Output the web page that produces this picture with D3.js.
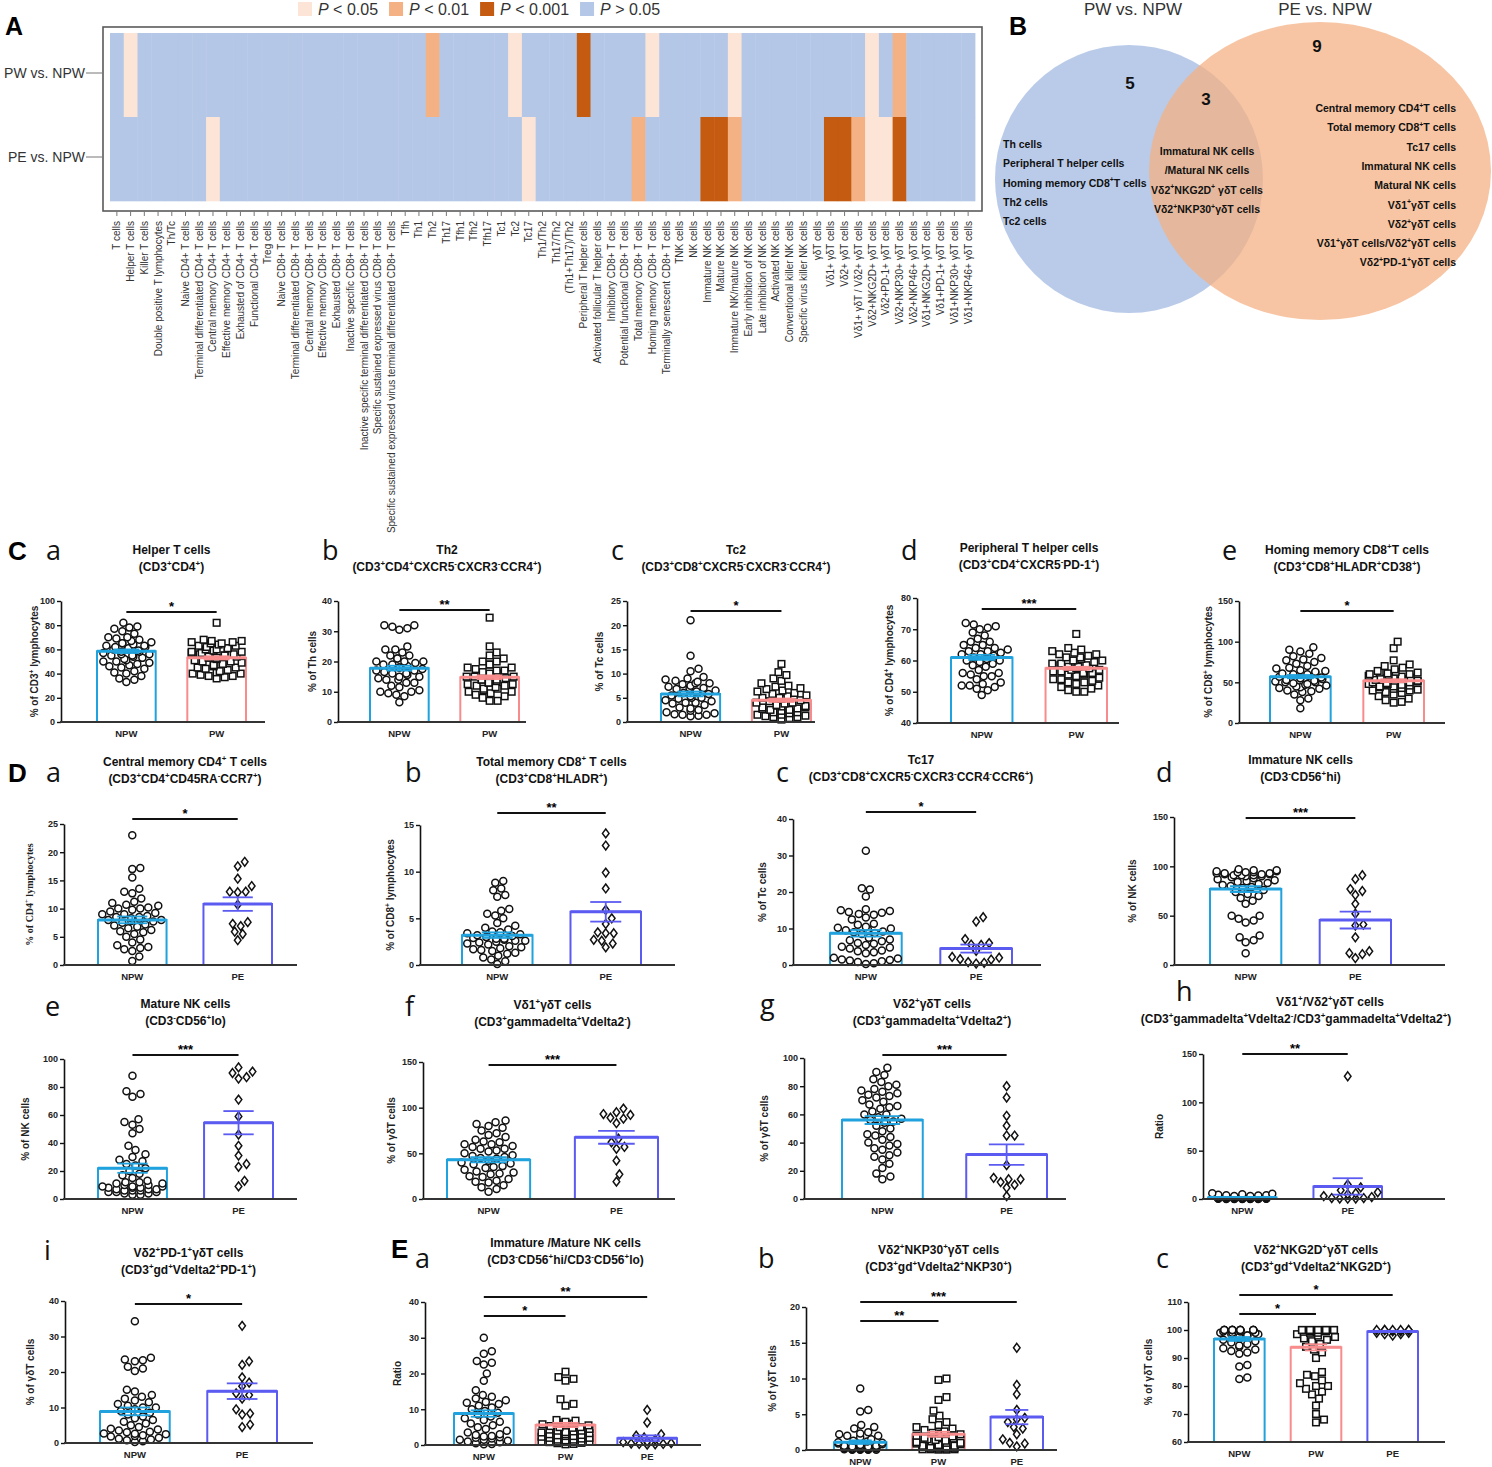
<!DOCTYPE html>
<html>
<head>
<meta charset="utf-8">
<script src="https://cdn.jsdelivr.net/npm/d3@7"></script>
<style>
  body { margin: 0; background: #fff; }
</style>
</head>
<body>
<svg id="fig" width="1492" height="1467"></svg>
<script>
// ---------- panel A : heatmap ----------
const cellTypes = [
  "T cells", "Helper T cells", "Killer T cells", "Double positive T lymphocytes", "Th/Tc",
  "Naive CD4+ T cells", "Terminal differentiated CD4+ T cells", "Central memory CD4+ T cells",
  "Effective memory CD4+ T cells", "Exhausted of CD4+ T cells", "Functional CD4+ T cells", "Treg cells",
  "Naive CD8+ T cells", "Terminal differentiated CD8+ T cells", "Central memory CD8+ T cells",
  "Effective memory CD8+ T cells", "Exhausted CD8+ T cells", "Inactive specific CD8+ T cells",
  "Inactive specific terminal differentiated CD8+ T cells", "Specific sustained expressed virus CD8+ T cells",
  "Specific sustained expressed virus terminal differentiated CD8+ T cells",
  "Tfh", "Th1", "Th2", "Th17", "Tfh1", "Tfh2", "Tfh17", "Tc1", "Tc2", "Tc17",
  "Th1/Th2", "Th17/Th2", "(Th1+Th17)/Th2", "Peripheral T helper cells", "Activated follicular T helper cells",
  "Inhibitory CD8+ T cells", "Potential functional CD8+ T cells", "Total memory CD8+ T cells",
  "Homing memory CD8+ T cells", "Terminally senescent CD8+ T cells", "TNK cells", "NK cells",
  "Immature NK cells", "Mature NK cells", "Immature NK/mature NK cells", "Early inhibition of NK cells",
  "Late inhibition of NK cells", "Activated NK cells", "Conventional killer NK cells",
  "Specific virus killer NK cells", "γδT cells", "Vδ1+ γδT cells", "Vδ2+ γδT cells",
  "Vδ1+ γδT / Vδ2+ γδT cells", "Vδ2+NKG2D+ γδT cells", "Vδ2+PD-1+ γδT cells", "Vδ2+NKP30+ γδT cells",
  "Vδ2+NKP46+ γδT cells", "Vδ1+NKG2D+ γδT cells", "Vδ1+PD-1+ γδT cells", "Vδ1+NKP30+ γδT cells",
  "Vδ1+NKP46+ γδT cells"
];
const comparisons = ["PW vs. NPW", "PE vs. NPW"];
// 0: P>0.05, 1: P<0.05, 2: P<0.01, 3: P<0.001
const pwLevel = [
  0,1,0,0,0,0,0,0,0,0,
  0,0,0,0,0,0,0,0,0,0,
  0,0,0,2,0,0,0,0,0,1,
  0,0,0,0,3,0,0,0,0,1,
  0,0,0,0,0,1,0,0,0,0,
  0,0,0,0,0,1,0,2,0,0,
  0,0,0
];
const peLevel = [
  0,0,0,0,0,0,0,1,0,0,
  0,0,0,0,0,0,0,0,0,0,
  0,0,0,0,0,0,0,0,0,0,
  1,0,0,0,0,0,0,0,2,0,
  0,0,0,3,3,2,0,0,0,0,
  0,0,3,3,2,1,1,3,0,0,
  0,0,0
];
const levelLabels = [" > 0.05", " < 0.05", " < 0.01", " < 0.001"];
const levelColors = ["#b4c7e7", "#fce4d6", "#f4b183", "#c55a11"];
const legendOrder = [1, 2, 3, 0];

// ---------- panel B : venn ----------
const vennTitles = ["PW vs. NPW", "PE vs. NPW"];
const vennCounts = [5, 3, 9];
const pwOnlyCells = ["Th cells", "Peripheral T helper cells", "Homing memory CD8^+T cells", "Th2 cells", "Tc2 cells"];
const sharedCells = ["Immatural NK cells", "/Matural NK cells", "Vδ2^+NKG2D^+ γδT cells", "Vδ2^+NKP30^+γδT cells"];
const peOnlyCells = ["Central memory CD4^+T cells", "Total memory CD8^+T cells", "Tc17 cells", "Immatural NK cells",
  "Matural NK cells", "Vδ1^+γδT cells", "Vδ2^+γδT cells", "Vδ1^+γδT cells/Vδ2^+γδT cells", "Vδ2^+PD-1^+γδT cells"];

// ---------- panels C-E : scatter bars ----------
const groups = ["NPW", "PW", "PE"];

const helperNPW = [82,79,78,77,75,73,70,70,69,68,67,66,65,65,64,63,63,62,62,61,60,60,59,58,58,57,56,56,55,55,54,53,52,51,50,50,49,48,47,46,45,44,42,41,40,38,36,35,33];
const helperPW = [82,68,67,67,66,66,65,65,64,63,63,62,61,61,60,60,59,58,58,57,57,56,56,55,55,54,54,53,53,52,51,50,50,49,48,48,47,46,45,45,44,43,42,41,40,40,39,38,38,37,36];
const helperMean = [58.5, 53], helperSem = [1.5, 1.3];

const th2NPW = [32,32,31.5,31,30.5,25,24,24,23,22,22,21,21,20,20,20,19.5,19,19,18.5,18,18,17.5,17,17,16.5,16,16,15.5,15,15,14.5,14,14,13,13,12,11.5,10.5,10,10,9.5,9,8.5,6.5];
const th2PW = [34.5,25,23,22,21,20,20,19,19,18,18,17.5,17,17,16.5,16,16,15.5,15,15,15,14.5,14,14,14,13.5,13,13,12.5,12.5,12,12,11.5,11,11,10.5,10,10,9.5,9,8.5,8,7,7];
const th2Mean = [17.8, 14.8], th2Sem = [0.8, 0.6];

const tc2NPW = [21,13.7,11,10.5,9.3,9,8.8,8.5,8.3,8,8,7.8,7.5,7.3,7,7,6.8,6.5,6.3,6,6,5.8,5.5,5.3,5,5,4.8,4.5,4.3,4,4,3.8,3.5,3,2.8,2.5,2.3,2,1.8,1.6,1.5,1.3,1.2,1.5];
const tc2PW = [12,10.3,9.7,9,8.5,8,7.5,7.3,7,6.8,6.5,6.3,6,5.8,5.5,5.3,5,5,4.8,4.5,4.3,4,4,3.8,3.5,3.3,3,3,2.8,2.5,2.5,2.3,2,2,1.8,1.5,1.5,1.3,1,1,0.8,0.5,3.2,2.7,1.2];
const tc2Mean = [5.8, 4.5], tc2Sem = [0.5, 0.35];

const pthNPW = [72,71.5,71,70.5,70,69,68,67,66,66,65,65,64,64,63.5,63,63,62.5,62,62,61.5,61,60.5,60,60,59.5,59,58.5,58,57,56,56,55.5,55,55,54,53,52.5,52,52,51.5,51,50.5,49];
const pthPW = [68.5,64,63.5,63,62.5,62,62,61.5,61,61,60.5,60,60,59.5,59,59,58.5,58.5,58,58,57.5,57.5,57,57,56.5,56.5,56,56,55.5,55.5,55,55,54.5,54,54,53.5,53,53,52.5,52,51.5,51,50.5,50,50];
const pthMean = [61, 57.5], pthSem = [0.8, 0.5];

const homingNPW = [93,90,88,85,82,80,78,77,75,73,70,68,67,65,64,63,62,61,60,60,59,58,57,56,55,55,54,53,52,51,50,50,49,48,47,46,45,44,43,42,40,39,38,35,30,28,18];
const homingPW = [100,92,77,72,70,68,66,64,63,62,62,61,60,60,59,58,57,56,55,55,54,53,52,52,51,50,50,49,48,48,47,46,45,45,44,43,42,41,40,40,38,37,35,33,30,28,26,25];
const homingMean = [57, 52], homingSem = [2, 1.8];

const cmCD4NPW = [23,17.2,17,15.5,13.5,13,12.7,11.8,11.2,11,10.7,10.5,10.2,10,10,9.8,9.5,9.2,9,9,8.7,8.5,8.5,8.3,8.2,8,8,7.8,7.7,7.5,7.2,7,6.8,6.5,6.2,6,5.8,5.5,5,4.5,4,3.5,3.2,3,2.8,2.5,1.5,0.7];
const cmCD4PE = [18.3,17.5,15.3,14,13,13,12.9,10.7,7.6,7.3,6.9,5.9,5.5,4.4];
const cmCD4Mean = [8.0, 10.8], cmCD4Sem = [0.6, 1.2];

const tmCD8NPW = [9,8.8,8.2,8,7.5,7.3,6,5.8,5.5,5.3,5,4.5,4.2,4,3.8,3.6,3.5,3.4,3.3,3.2,3,3,2.9,2.8,2.8,2.7,2.6,2.5,2.4,2.3,2.2,2,1.9,1.8,1.7,1.6,1.5,1.3,1.2,1,0.8,0.6,0.4,0.1,2.6,3.1];
const tmCD8PE = [14.1,12.8,9.9,8.2,5.9,5,4.4,3.5,3.4,3.4,2.7,2.6,2.3,1.9];
const tmCD8Mean = [3.2, 5.7], tmCD8Sem = [0.3, 1.05];

const tc17NPW = [31.3,21,20.7,18.8,15.3,15,14.8,14.5,14.3,14,13.8,13,12.5,11.3,11,10.5,10.2,10,9.8,9.5,9.2,9,8.8,8.5,7.5,7,6.8,6.5,6,5.8,5.5,5,4.8,4.5,4,3.8,3.5,3.2,2,1.8,1.5,1.4,1.2,1,0.8,0.5,0.3];
const tc17PE = [13.1,11.9,7.1,6,5.6,5.5,3.9,2.2,2,1.6,1.5,0.8,0.6,0.4];
const tc17Mean = [8.7, 4.5], tc17Sem = [0.9, 1.1];

const immNKNPW = [97,96,96,95,95,94,94,93,93,92,92,92,91,91,91,90,90,89,88,87,86,85,84,83,82,81,80,79,78,76,74,72,70,68,65,62,50,50,47,45,43,30,28,25,23,12,93,94];
const immNKPE = [91,87,77,75,71,62,52,41,40,28,14,12,11,7];
const immNKMean = [77, 45.5], immNKSem = [3, 8.5];

const matNKNPW = [88,77,75,73,57,55,53,50,47,38,35,32,30,28,27,25,24,22,20,18,17,15,13,12,11,10,10,9,9,8,8,8,7,7,7,6,6,6,5,5,5,4,4,3,3,12,11,9];
const matNKPE = [94,91,90,87,86,71,59,46,38,31,25,23,13,9];
const matNKMean = [22, 54.5], matNKSem = [3.3, 8.3];

const vd1NPW = [86,84,82,80,78,75,72,70,68,65,63,62,60,58,57,55,53,52,50,48,47,46,45,44,42,40,39,38,36,35,34,32,30,29,28,27,25,24,22,20,19,18,15,13,11,8,60,55];
const vd1PE = [99,95,93,92,89,88,83,66,62,57,55,42,27,19];
const vd1Mean = [43, 67.5], vd1Sem = [2.8, 7];

const vd2NPW = [93,90,88,85,83,81,80,78,77,76,75,74,73,72,70,69,67,65,64,62,60,58,57,56,55,54,52,50,48,46,45,44,42,40,39,38,36,35,33,31,30,28,25,22,18,16,14,60,66];
const vd2PE = [80,72,59,52,45,45,24,15,14,14,12,10,8,2];
const vd2Mean = [56, 31.5], vd2Sem = [2.8, 7.3];

const ratioNPW = [6,5.5,5,4.5,4,4,3.5,3,3,2.8,2.5,2.3,2,2,1.8,1.6,1.5,1.4,1.3,1.2,1.1,1,1,0.9,0.8,0.8,0.7,0.6,0.6,0.5,0.5,0.4,0.4,0.3,0.3,0.2,0.2,0.2,0.1,0.1,0.1,0.05,0.05,1.5,2.2];
const ratioPE = [127,15,12,9,7,6,5,3,2,1,1,0.5,0.5,0.3];
const ratioMean = [1.5, 13], ratioSem = [0.2, 8.5];

const pd1NPW = [34.3,24,23.5,23.3,23,21.5,21,20.3,15,14.5,13.5,13,12.5,12,11.5,11,10.5,10,10,9.5,9,8.5,8,7.5,7,6.5,6,5.5,5,4.5,4,3.5,3.2,3,2.7,2.5,2.2,2,1.8,1.5,1.2,1,0.8,0.5,0.3,3.8,2.6];
const pd1PE = [33,23,22,18.5,17,16,14,13.5,12.5,9.5,8.3,8,5.2,4.5];
const pd1Mean = [8.9, 14.6], pd1Sem = [1.1, 2.2];

const nkRatioNPW = [30,26.2,25.5,23.5,23,22.5,20,18,15.3,14,13.5,13,12.5,12,11.8,11.5,11,10.5,10,9.5,9,8.5,8,7.5,7,6.5,6,5.5,5,4.5,4,3.5,3,2.8,2.5,2.2,2,1.8,1.5,1.2,1,0.8,0.5,0.3,0.2,1.5,2.4];
const nkRatioPW = [20.5,19,18.5,18,12.8,11.5,11,7,6.8,6.5,6.3,6,6,5.8,5.5,5.3,5,5,4.8,4.5,4.3,4,4,3.8,3.5,3.3,3,3,2.8,2.5,2.5,2.3,2,2,1.8,1.5,1.5,1.3,1,1,0.8,0.6,0.5,0.3,0.2,2.7,3.6];
const nkRatioPE = [9.8,6.3,3,2.6,2.1,1.5,1,0.8,0.5,0.4,0.3,0.3,0.2,0.1];
const nkRatioMean = [8.8, 5.6, 1.9], nkRatioSem = [0.9, 0.6, 0.8];

const nkp30NPW = [8.6,5.6,5.4,3.5,3.2,3,2.5,2.3,2.2,2,2,1.8,1.5,1.3,1.2,1.1,1,0.9,0.8,0.7,0.6,0.6,0.5,0.5,0.4,0.4,0.4,0.3,0.3,0.3,0.2,0.2,0.2,0.2,0.1,0.1,0.1,0.1,0.05,0.05,0.05,0.05,0.5,0.3,0.2];
const nkp30PW = [10,9.8,7.4,7,5.5,4.8,4.3,3.9,3.5,3.2,3,2.8,2.6,2.4,2.3,2.2,2,1.9,1.8,1.7,1.6,1.5,1.4,1.3,1.2,1.1,1,1,0.9,0.8,0.7,0.6,0.6,0.5,0.5,0.4,0.4,0.3,0.3,0.2,0.2,0.1,0.1,0.1,0.05,0.05];
const nkp30PE = [14.3,9.1,7.8,5.6,4.5,4.3,3.9,3.2,3,2.2,1.5,1,0.9,0.5];
const nkp30Mean = [1.1, 2.2, 4.6], nkp30Sem = [0.25, 0.35, 1];

const nkg2dNPW = [100,100,100,100,100,100,100,100,100,100,100,100,100,100,100,100,100,100,99.5,99.5,99,99,99,98.5,98.5,98,98,97.5,97,96.5,96,95.5,95,94.5,94,93.5,93,92.5,92,91.5,87.5,87,83,82.5];
const nkg2dPW = [100,100,100,100,100,100,100,100,100,100,100,100,100,100,100,100,99.5,99.5,99,99,98.5,98,97.5,97,96.5,96,95,94,93,92,90,85,84,83.5,82,81,80,80,79,78,77,75.5,73,70,68,67];
const nkg2dPE = [100,100,100,100,100,100,100,99.5,99.5,99,99,98.5,98.5,98];
const nkg2dMean = [96.8, 93.8, 99.5], nkg2dSem = [0.7, 1.1, 0.2];

// ---------- drawing ----------
const svg = d3.select("#fig");
const SANS = "'Liberation Sans', Arial, sans-serif";
const NARROW = "'Liberation Sans Narrow', 'Arial Narrow', 'Liberation Sans', Arial, sans-serif";
const groupColor = { NPW: "#1fa2dd", PW: "#f88c8c", PE: "#5b5bf2" };

// text with ^+ / ^- superscripts
function rich(sel, str, size) {
  const parts = str.split(/(\^.)/).filter(s => s.length);
  let up = false;
  parts.forEach(p => {
    const t = sel.append("tspan");
    if (p[0] === "^") {
      t.attr("font-size", size * 0.66).attr("dy", up ? 0 : -size * 0.4).text(p[1]);
      up = true;
    } else {
      t.attr("dy", up ? size * 0.4 : 0).text(p);
      up = false;
    }
  });
  return sel;
}

// ----- A -----
const hx = d3.scaleBand().domain(cellTypes).range([110, 975]);
const hy = d3.scaleBand().domain(comparisons).range([33, 201]);

svg.append("text").attr("x", 5).attr("y", 35).attr("font-family", SANS)
  .attr("font-weight", "bold").attr("font-size", 25).text("A");

svg.append("rect").attr("x", 103).attr("y", 27).attr("width", 879).attr("height", 184)
  .attr("fill", "#fff").attr("stroke", "#5a5a5a").attr("stroke-width", 1.6);

[pwLevel, peLevel].forEach((lv, r) => {
  svg.append("g").selectAll("rect").data(cellTypes).join("rect")
    .attr("x", d => hx(d)).attr("y", hy(comparisons[r]))
    .attr("width", hx.bandwidth() + 0.4).attr("height", hy.bandwidth() + 0.3)
    .attr("fill", (d, i) => levelColors[lv[i]]);
});

// x ticks + labels
const hxAxis = svg.append("g");
cellTypes.forEach(c => {
  const cx = hx(c) + hx.bandwidth() / 2;
  hxAxis.append("line").attr("x1", cx).attr("x2", cx).attr("y1", 211).attr("y2", 216)
    .attr("stroke", "#777").attr("stroke-width", 1);
  hxAxis.append("text").attr("transform", `translate(${cx},221) rotate(-90)`)
    .attr("text-anchor", "end").attr("dy", "0.35em").attr("font-family", SANS)
    .attr("font-size", 10).attr("fill", "#333").text(c);
});
comparisons.forEach(c => {
  const cy = hy(c) + hy.bandwidth() / 2 - 2;
  svg.append("line").attr("x1", 86).attr("x2", 102).attr("y1", cy).attr("y2", cy)
    .attr("stroke", "#777").attr("stroke-width", 1);
  svg.append("text").attr("x", 85).attr("y", cy).attr("dy", "0.35em").attr("text-anchor", "end")
    .attr("font-family", SANS).attr("font-size", 14).attr("fill", "#333").text(c);
});

// legend
let lx = 298;
legendOrder.forEach(k => {
  svg.append("rect").attr("x", lx).attr("y", 2).attr("width", 14).attr("height", 14).attr("fill", levelColors[k]);
  const t = svg.append("text").attr("x", lx + 20).attr("y", 15).attr("font-family", SANS)
    .attr("font-size", 16).attr("fill", "#333");
  t.append("tspan").attr("font-style", "italic").text("P");
  t.append("tspan").text(levelLabels[k]);
  lx += 20 + t.node().getComputedTextLength() + 11;
});

// ----- B -----
svg.append("text").attr("x", 1009).attr("y", 35).attr("font-family", SANS)
  .attr("font-weight", "bold").attr("font-size", 25).text("B");
svg.append("ellipse").attr("cx", 1129).attr("cy", 179).attr("rx", 134).attr("ry", 134)
  .attr("fill", "#b4c7e7").attr("opacity", 0.92);
svg.append("ellipse").attr("cx", 1320).attr("cy", 171).attr("rx", 171).attr("ry", 149)
  .attr("fill", "#f4b183").attr("opacity", 0.74);
[[1133, vennTitles[0]], [1325, vennTitles[1]]].forEach(([x, t]) => {
  svg.append("text").attr("x", x).attr("y", 15).attr("text-anchor", "middle").attr("font-family", SANS)
    .attr("font-size", 17).attr("fill", "#333").text(t);
});
[[1130, 89], [1206, 105], [1317, 52]].forEach(([x, y], i) => {
  svg.append("text").attr("x", x).attr("y", y).attr("text-anchor", "middle").attr("font-family", SANS)
    .attr("font-weight", "bold").attr("font-size", 17).attr("fill", "#111").text(vennCounts[i]);
});
function vennList(list, x, y0, anchor) {
  list.forEach((s, i) => {
    const t = svg.append("text").attr("x", x).attr("y", y0 + i * 19.3).attr("text-anchor", anchor)
      .attr("font-family", SANS).attr("font-weight", "bold").attr("font-size", 10.5).attr("fill", "#111");
    rich(t, s, 10.5);
  });
}
vennList(pwOnlyCells, 1003, 148, "start");
vennList(sharedCells, 1207, 155, "middle");
vennList(peOnlyCells, 1456, 112, "end");

// ----- C-E -----
function swarm(vals, y, cx, half, r) {
  const pts = vals.map(v => ({ v, y: y(v) })).sort((a, b) => b.y - a.y);
  const placed = [];
  const lim = Math.max(0, half - r);
  pts.forEach(p => {
    let best = 0, bestCost = Infinity;
    for (let k = 0; k <= lim; k += 1) {
      for (const s of (k === 0 ? [1] : [1, -1])) {
        const off = k * s;
        let cost = 0;
        for (const q of placed) {
          const dx = q.x - (cx + off), dy = q.y - p.y;
          if (dx * dx + dy * dy < (2 * r) * (2 * r)) cost++;
        }
        if (cost < bestCost) { bestCost = cost; best = off; }
        if (cost === 0) break;
      }
      if (bestCost === 0) break;
    }
    p.x = cx + best;
    placed.push(p);
  });
  return placed;
}

function marker(g, shape, x, y) {
  if (shape === "NPW") {
    g.append("circle").attr("cx", x).attr("cy", y).attr("r", 3.5);
  } else if (shape === "PW") {
    g.append("rect").attr("x", x - 3.3).attr("y", y - 3.3).attr("width", 6.6).attr("height", 6.6);
  } else {
    g.append("path").attr("d", `M${x},${y - 4.4}L${x + 3.3},${y}L${x},${y + 4.4}L${x - 3.3},${y}Z`);
  }
}

function drawPanel(p) {
  const g = svg.append("g");
  const y = d3.scaleLinear().domain(p.domain).range([p.yB, p.yT]);
  const x = d3.scaleBand().domain(p.cats).range(p.band).paddingInner(p.pad);
  const lo = p.domain[0];

  // bars
  p.cats.forEach((c, i) => {
    const x0 = x(c), w = x.bandwidth();
    g.append("path").attr("d", `M${x0},${y(lo)}V${y(p.mean[i])}H${x0 + w}V${y(lo)}`)
      .attr("fill", "none").attr("stroke", groupColor[c]).attr("stroke-width", 2);
  });

  // points
  p.cats.forEach((c, i) => {
    const cx = x(c) + x.bandwidth() / 2;
    const pts = swarm(p.vals[i], y, cx, x.bandwidth() / 2, 3.8);
    const pg = g.append("g").attr("fill", "#fff").attr("stroke", "#111").attr("stroke-width", 1.5);
    pts.forEach(q => marker(pg, c, q.x, q.y));
  });

  // mean and SEM
  p.cats.forEach((c, i) => {
    const x0 = x(c), w = x.bandwidth(), cx = x0 + w / 2, col = groupColor[c];
    const m = p.mean[i], s = p.sem[i], cap = w * 0.22;
    g.append("line").attr("x1", x0).attr("x2", x0 + w).attr("y1", y(m)).attr("y2", y(m))
      .attr("stroke", col).attr("stroke-width", 3);
    g.append("line").attr("x1", cx).attr("x2", cx).attr("y1", y(Math.max(lo, m - s))).attr("y2", y(m + s))
      .attr("stroke", col).attr("stroke-width", 1.8);
    [m - s, m + s].forEach(v => {
      if (v < lo) return;
      g.append("line").attr("x1", cx - cap).attr("x2", cx + cap).attr("y1", y(v)).attr("y2", y(v))
        .attr("stroke", col).attr("stroke-width", 1.8);
    });
  });

  // axes
  const ya = g.append("g").attr("transform", `translate(${p.ax},0)`)
    .call(d3.axisLeft(y).tickValues(d3.range(p.domain[0], p.domain[1] + 1e-9, p.step))
      .tickSize(4).tickSizeOuter(0).tickPadding(2));
  ya.select(".domain").attr("stroke", "#111").attr("stroke-width", 1.6);
  ya.selectAll(".tick line").attr("stroke", "#111").attr("stroke-width", 1.4);
  ya.selectAll(".tick text").attr("font-family", SANS).attr("font-weight", "bold")
    .attr("font-size", 9).attr("fill", "#222");
  g.append("line").attr("x1", p.ax - 1).attr("x2", p.axEnd).attr("y1", y(lo)).attr("y2", y(lo))
    .attr("stroke", "#333").attr("stroke-width", 1.8);
  p.cats.forEach(c => {
    g.append("text").attr("x", x(c) + x.bandwidth() / 2).attr("y", p.yB + 15).attr("text-anchor", "middle")
      .attr("font-family", SANS).attr("font-weight", "bold").attr("font-size", 9.5).attr("fill", "#222").text(c);
  });

  // significance
  p.sig.forEach(([a, b, dy, lab]) => {
    const x1 = x(p.cats[a]) + x.bandwidth() / 2, x2 = x(p.cats[b]) + x.bandwidth() / 2, ly = p.yT + dy;
    g.append("line").attr("x1", x1).attr("x2", x2).attr("y1", ly).attr("y2", ly)
      .attr("stroke", "#111").attr("stroke-width", 2);
    g.append("text").attr("x", (x1 + x2) / 2).attr("y", ly - 1).attr("text-anchor", "middle")
      .attr("font-family", SANS).attr("font-weight", "bold").attr("font-size", 13).text(lab);
  });

  // y label
  const yl = g.append("text").attr("transform", `translate(${p.ylabX},${(p.yT + p.yB) / 2}) rotate(-90)`)
    .attr("text-anchor", "middle").attr("dy", "0.35em").attr("font-family", p.serif ? "'Liberation Serif', serif" : SANS)
    .attr("font-weight", "bold").attr("font-size", 10).attr("fill", "#222");
  rich(yl, p.ylab, 10);

  // titles
  const bx = (p.band[0] + p.band[1]) / 2;
  const t1 = g.append("text").attr("x", p.titleX || bx).attr("y", p.titleY).attr("text-anchor", "middle")
    .attr("font-family", NARROW).attr("font-weight", "bold").attr("font-size", 12).attr("fill", "#111");
  rich(t1, p.title, 12);
  const t2 = g.append("text").attr("x", p.subX || p.titleX || bx).attr("y", p.titleY + 17).attr("text-anchor", "middle")
    .attr("font-family", NARROW).attr("font-weight", "bold").attr("font-size", 12).attr("fill", "#111");
  rich(t2, p.sub, 12);

  // letters
  g.append("text").attr("x", p.letter[1]).attr("y", p.letter[2]).attr("font-family", "'Open Sans', sans-serif")
    .attr("font-size", 27).attr("fill", "#111").text(p.letter[0]);
  if (p.big) {
    g.append("text").attr("x", p.big[1]).attr("y", p.big[2]).attr("font-family", SANS)
      .attr("font-weight", "bold").attr("font-size", 26).attr("fill", "#000").text(p.big[0]);
  }
}

const two = ["NPW", "PW"], twoE = ["NPW", "PE"];
const panels = [
  { cats: two, vals: [helperNPW, helperPW], mean: helperMean, sem: helperSem, domain: [0, 100], step: 20,
    ax: 61, axEnd: 265, band: [97, 246], pad: 0.35, yT: 601, yB: 722, sig: [[0, 1, 11, "*"]],
    ylab: "% of CD3^+ lymphocytes", ylabX: 38, title: "Helper T cells", sub: "(CD3^+CD4^+)", titleY: 554,
    letter: ["a", 46, 560], big: ["C", 8, 560] },
  { cats: two, vals: [th2NPW, th2PW], mean: th2Mean, sem: th2Sem, domain: [0, 40], step: 10,
    ax: 338, axEnd: 526, band: [370, 519], pad: 0.35, yT: 601, yB: 722, sig: [[0, 1, 9, "**"]],
    ylab: "% of Th cells", ylabX: 316, title: "Th2", sub: "(CD3^+CD4^+CXCR5^-CXCR3^-CCR4^+)", titleY: 554, titleX: 447,
    letter: ["b", 322, 560] },
  { cats: two, vals: [tc2NPW, tc2PW], mean: tc2Mean, sem: tc2Sem, domain: [0, 25], step: 5,
    ax: 627, axEnd: 815, band: [661, 811], pad: 0.35, yT: 601, yB: 722, sig: [[0, 1, 10, "*"]],
    ylab: "% of Tc cells", ylabX: 603, title: "Tc2", sub: "(CD3^+CD8^+CXCR5^-CXCR3^-CCR4^+)", titleY: 554,
    letter: ["c", 611, 560] },
  { cats: two, vals: [pthNPW, pthPW], mean: pthMean, sem: pthSem, domain: [40, 80], step: 10,
    ax: 917, axEnd: 1119, band: [951, 1107], pad: 0.35, yT: 598, yB: 723, sig: [[0, 1, 11, "***"]],
    ylab: "% of CD4^+ lymphocytes", ylabX: 893, title: "Peripheral T helper cells", sub: "(CD3^+CD4^+CXCR5^-PD-1^+)",
    titleY: 552, letter: ["d", 901, 560] },
  { cats: two, vals: [homingNPW, homingPW], mean: homingMean, sem: homingSem, domain: [0, 150], step: 50,
    ax: 1239, axEnd: 1445, band: [1270, 1424], pad: 0.35, yT: 601, yB: 723, sig: [[0, 1, 10, "*"]],
    ylab: "% of CD8^+ lymphocytes", ylabX: 1212, title: "Homing memory CD8^+T cells", sub: "(CD3^+CD8^+HLADR^+CD38^+)",
    titleY: 554, letter: ["e", 1222, 560] },

  { cats: twoE, vals: [cmCD4NPW, cmCD4PE], mean: cmCD4Mean, sem: cmCD4Sem, domain: [0, 25], step: 5,
    ax: 64, axEnd: 297, band: [98, 272], pad: 0.35, yT: 824, yB: 965, sig: [[0, 1, -5, "*"]], serif: true,
    ylab: "% of CD4^+ lymphocytes", ylabX: 33, title: "Central memory CD4^+ T cells", sub: "(CD3^+CD4^+CD45RA^-CCR7^+)",
    titleY: 766, letter: ["a", 46, 782], big: ["D", 8, 782] },
  { cats: twoE, vals: [tmCD8NPW, tmCD8PE], mean: tmCD8Mean, sem: tmCD8Sem, domain: [0, 15], step: 5,
    ax: 420, axEnd: 675, band: [462, 641], pad: 0.35, yT: 825, yB: 965, sig: [[0, 1, -12, "**"]],
    ylab: "% of CD8^+ lymphocytes", ylabX: 394, title: "Total memory CD8^+ T cells", sub: "(CD3^+CD8^+HLADR^+)",
    titleY: 766, letter: ["b", 405, 782] },
  { cats: twoE, vals: [tc17NPW, tc17PE], mean: tc17Mean, sem: tc17Sem, domain: [0, 40], step: 10,
    ax: 793, axEnd: 1041, band: [830, 1012], pad: 0.35, yT: 819, yB: 965, sig: [[0, 1, -7, "*"]],
    ylab: "% of Tc cells", ylabX: 766, title: "Tc17", sub: "(CD3^+CD8^+CXCR5^-CXCR3^-CCR4^-CCR6^+)",
    titleY: 764, letter: ["c", 776, 782] },
  { cats: twoE, vals: [immNKNPW, immNKPE], mean: immNKMean, sem: immNKSem, domain: [0, 150], step: 50,
    ax: 1174, axEnd: 1445, band: [1210, 1391], pad: 0.35, yT: 817, yB: 965, sig: [[0, 1, 1, "***"]],
    ylab: "% of NK cells", ylabX: 1136, title: "Immature NK cells", sub: "(CD3^-CD56^+hi)",
    titleY: 764, letter: ["d", 1156, 782] },

  { cats: twoE, vals: [matNKNPW, matNKPE], mean: matNKMean, sem: matNKSem, domain: [0, 100], step: 20,
    ax: 64, axEnd: 297, band: [98, 273], pad: 0.35, yT: 1059, yB: 1199, sig: [[0, 1, -4, "***"]],
    ylab: "% of NK cells", ylabX: 29, title: "Mature NK cells", sub: "(CD3^-CD56^+lo)",
    titleY: 1008, letter: ["e", 45, 1016] },
  { cats: twoE, vals: [vd1NPW, vd1PE], mean: vd1Mean, sem: vd1Sem, domain: [0, 150], step: 50,
    ax: 423, axEnd: 675, band: [447, 658], pad: 0.35, yT: 1062, yB: 1199, sig: [[0, 1, 3, "***"]],
    ylab: "% of γδT cells", ylabX: 395, title: "Vδ1^+γδT cells", sub: "(CD3^+gammadelta^+Vdelta2^-)",
    titleY: 1009, letter: ["f", 405, 1016] },
  { cats: twoE, vals: [vd2NPW, vd2PE], mean: vd2Mean, sem: vd2Sem, domain: [0, 100], step: 20,
    ax: 804, axEnd: 1066, band: [842, 1047], pad: 0.35, yT: 1058, yB: 1199, sig: [[0, 1, -3, "***"]],
    ylab: "% of γδT cells", ylabX: 768, title: "Vδ2^+γδT cells", sub: "(CD3^+gammadelta^+Vdelta2^+)",
    titleY: 1008, titleX: 932, letter: ["g", 760, 1014] },
  { cats: twoE, vals: [ratioNPW, ratioPE], mean: ratioMean, sem: ratioSem, domain: [0, 150], step: 50,
    ax: 1203, axEnd: 1445, band: [1208, 1382], pad: 0.35, yT: 1054, yB: 1199, sig: [[0, 1, 0, "**"]],
    ylab: "Ratio", ylabX: 1163, title: "Vδ1^+/Vδ2^+γδT cells", sub: "(CD3^+gammadelta^+Vdelta2^-/CD3^+gammadelta^+Vdelta2^+)",
    titleY: 1006, titleX: 1330, subX: 1296, letter: ["h", 1176, 1001] },

  { cats: twoE, vals: [pd1NPW, pd1PE], mean: pd1Mean, sem: pd1Sem, domain: [0, 40], step: 10,
    ax: 65, axEnd: 313, band: [100, 277], pad: 0.35, yT: 1301, yB: 1443, sig: [[0, 1, 3, "*"]],
    ylab: "% of γδT cells", ylabX: 34, title: "Vδ2^+PD-1^+γδT cells", sub: "(CD3^+gd^+Vdelta2^+PD-1^+)",
    titleY: 1257, letter: ["i", 44, 1260] },
  { cats: groups, vals: [nkRatioNPW, nkRatioPW, nkRatioPE], mean: nkRatioMean, sem: nkRatioSem, domain: [0, 40], step: 10,
    ax: 425, axEnd: 701, band: [454, 677], pad: 0.27, yT: 1302, yB: 1445, sig: [[0, 1, 14, "*"], [0, 2, -5, "**"]],
    ylab: "Ratio", ylabX: 401, title: "Immature /Mature NK cells", sub: "(CD3^-CD56^+hi/CD3^-CD56^+lo)",
    titleY: 1247, letter: ["a", 415, 1268], big: ["E", 391, 1258] },
  { cats: groups, vals: [nkp30NPW, nkp30PW, nkp30PE], mean: nkp30Mean, sem: nkp30Sem, domain: [0, 20], step: 5,
    ax: 806, axEnd: 1057, band: [834, 1043], pad: 0.33, yT: 1307, yB: 1450, sig: [[0, 1, 14, "**"], [0, 2, -5, "***"]],
    ylab: "% of γδT cells", ylabX: 776, title: "Vδ2^+NKP30^+γδT cells", sub: "(CD3^+gd^+Vdelta2^+NKP30^+)",
    titleY: 1254, letter: ["b", 758, 1268] },
  { cats: groups, vals: [nkg2dNPW, nkg2dPW, nkg2dPE], mean: nkg2dMean, sem: nkg2dSem, domain: [60, 110], step: 10,
    ax: 1188, axEnd: 1445, band: [1214, 1418], pad: 0.34, yT: 1302, yB: 1442, sig: [[0, 1, 12, "*"], [0, 2, -7, "*"]],
    ylab: "% of γδT cells", ylabX: 1152, title: "Vδ2^+NKG2D^+γδT cells", sub: "(CD3^+gd^+Vdelta2^+NKG2D^+)",
    titleY: 1254, letter: ["c", 1156, 1268] }
];

panels.forEach(drawPanel);
</script>
</body>
</html>
